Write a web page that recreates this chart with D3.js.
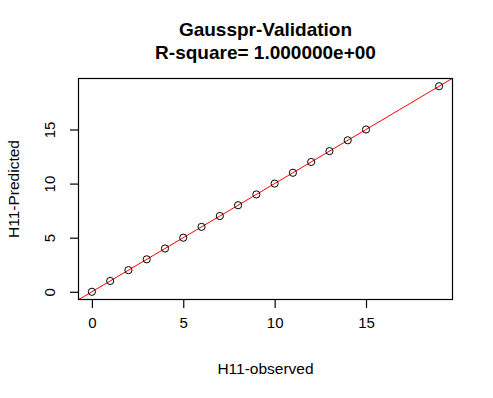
<!DOCTYPE html>
<html>
<head>
<meta charset="utf-8">
<title>Gausspr-Validation</title>
<script src="https://d3js.org/d3.v7.min.js"></script>
<style>
  body { margin: 0; background: #fff; }
  svg { display: block; font-family: "Liberation Sans", Arial, sans-serif; }
</style>
</head>
<body>
<svg width="493" height="398"></svg>
<script>
// data
var observed  = [0, 1, 2, 3, 4, 5, 6, 7, 8, 9, 10, 11, 12, 13, 14, 15, 19];
var predicted = [0, 1, 2, 3, 4, 5, 6, 7, 8, 9, 10, 11, 12, 13, 14, 15, 19];
var xTicks = [0, 5, 10, 15];
var yTicks = [0, 5, 10, 15];
var titleLines = ["Gausspr-Validation", "R-square= 1.000000e+00"];
var xLabel = "H11-observed",
    yLabel = "H11-Predicted";

var svg = d3.select("svg"),
    plotL = 78, plotR = 453, plotT = 78, plotB = 300;

// R style 4% expansion of the data range
var xScale = d3.scaleLinear().domain([-0.76, 19.76]).range([plotL, plotR]),
    yScale = d3.scaleLinear().domain([-0.76, 19.76]).range([plotB, plotT]);

svg.append("clipPath").attr("id", "plotclip")
   .append("rect").attr("x", plotL).attr("y", plotT)
   .attr("width", plotR - plotL).attr("height", plotB - plotT);

// y = x reference line
svg.append("line")
   .attr("clip-path", "url(#plotclip)")
   .attr("x1", xScale(-0.76)).attr("y1", yScale(-0.76))
   .attr("x2", xScale(19.76)).attr("y2", yScale(19.76))
   .attr("stroke", "#ff0000").attr("stroke-width", 1);

// points
svg.selectAll(".pt")
   .data(observed)
   .enter().append("circle")
   .attr("class", "pt")
   .attr("cx", function(d) { return xScale(d); })
   .attr("cy", function(d, i) { return yScale(predicted[i]); })
   .attr("r", 3.6)
   .attr("fill", "none")
   .attr("stroke", "#000")
   .attr("stroke-width", 1);

// box
svg.append("rect")
   .attr("x", plotL + 0.5).attr("y", plotT + 0.5)
   .attr("width", plotR - plotL - 1).attr("height", plotB - plotT - 1)
   .attr("fill", "none").attr("stroke", "#000").attr("stroke-width", 1.2);

// axes
var xAxis = svg.append("g")
   .attr("transform", "translate(0," + plotB + ")")
   .call(d3.axisBottom(xScale).tickValues(xTicks).tickSize(8).tickPadding(9));
var yAxis = svg.append("g")
   .attr("transform", "translate(" + plotL + ",0)")
   .call(d3.axisLeft(yScale).tickValues(yTicks).tickSize(8).tickPadding(10));

[xAxis, yAxis].forEach(function(ax) {
  ax.select(".domain").remove();
  ax.selectAll("line").attr("stroke", "#000").attr("stroke-width", 1.2);
  ax.selectAll("text").attr("font-size", "15px").attr("fill", "#000")
    .attr("font-family", "Liberation Sans, Arial, sans-serif");
});

// rotate y tick labels as R does
yAxis.selectAll(".tick text")
   .attr("x", null).attr("dy", null)
   .attr("text-anchor", "middle")
   .attr("transform", "translate(-23,0) rotate(-90)");

// titles
svg.selectAll(".title")
   .data(titleLines)
   .enter().append("text")
   .attr("class", "title")
   .attr("x", (plotL + plotR) / 2)
   .attr("y", function(d, i) { return 36 + i * 23; })
   .attr("text-anchor", "middle")
   .attr("font-weight", "bold")
   .attr("font-size", "19px")
   .text(function(d) { return d; });

svg.append("text")
   .attr("x", (plotL + plotR) / 2).attr("y", 374)
   .attr("text-anchor", "middle")
   .attr("font-size", "15.5px")
   .text(xLabel);

svg.append("text")
   .attr("transform", "translate(19," + (plotT + plotB) / 2 + ") rotate(-90)")
   .attr("text-anchor", "middle")
   .attr("font-size", "15.5px")
   .text(yLabel);
</script>
</body>
</html>
